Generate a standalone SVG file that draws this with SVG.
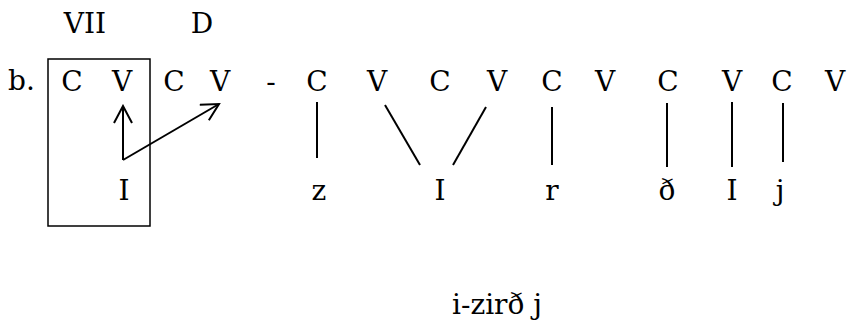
<svg xmlns="http://www.w3.org/2000/svg" width="847" height="323" viewBox="0 0 847 323">
<style>
text{font-family:'DejaVu Serif',serif;font-size:28px;fill:#000}
.m{text-anchor:middle}
.ln{stroke:#000;stroke-width:2;fill:none}
</style>
<defs>
<marker id="ah" markerWidth="20" markerHeight="20" refX="18" refY="10" orient="auto" markerUnits="userSpaceOnUse">
<path d="M1,1 L18,10 L1,19" fill="none" stroke="#000" stroke-width="2"/>
</marker>
</defs>
<rect id="box" x="48" y="59" width="102" height="167" fill="none" stroke="#000" stroke-width="1.5"/>
<g id="labels-top">
<text class="m" x="85" y="33">VII</text>
<text class="m" x="202" y="33">D</text>
</g>
<g id="skeleton">
<text x="8" y="90">b.</text>
<text class="m" x="72" y="91">C</text>
<text class="m" x="122" y="91">V</text>
<text class="m" x="174" y="91">C</text>
<text class="m" x="220" y="91">V</text>
<text class="m" x="271" y="91">-</text>
<text class="m" x="317" y="91">C</text>
<text class="m" x="377" y="91">V</text>
<text class="m" x="440" y="91">C</text>
<text class="m" x="497" y="91">V</text>
<text class="m" x="552" y="91">C</text>
<text class="m" x="605" y="91">V</text>
<text class="m" x="668" y="91">C</text>
<text class="m" x="732" y="91">V</text>
<text class="m" x="782" y="91">C</text>
<text class="m" x="835" y="91">V</text>
</g>
<g id="melody">
<text class="m" x="124" y="200">I</text>
<text class="m" x="319" y="200">z</text>
<text class="m" x="440" y="200">I</text>
<text class="m" x="552" y="200">r</text>
<text class="m" x="667" y="200">ð</text>
<text class="m" x="732" y="200">I</text>
<text class="m" x="780" y="200">j</text>
</g>
<g id="connectors">
<path class="ln" d="M123,160 L123,106" marker-end="url(#ah)"/>
<path class="ln" d="M123,160 L219,104" marker-end="url(#ah)"/>
<line class="ln" x1="317" y1="102" x2="317" y2="158"/>
<line class="ln" x1="385" y1="105" x2="420" y2="165"/>
<line class="ln" x1="486" y1="107" x2="453" y2="165"/>
<line class="ln" x1="552" y1="107" x2="552" y2="165"/>
<line class="ln" x1="667" y1="103" x2="667" y2="167"/>
<line class="ln" x1="732" y1="102" x2="732" y2="167"/>
<line class="ln" x1="783" y1="103" x2="783" y2="162"/>
</g>
<text id="gloss" x="452" y="314">i-zirð j</text>
</svg>
